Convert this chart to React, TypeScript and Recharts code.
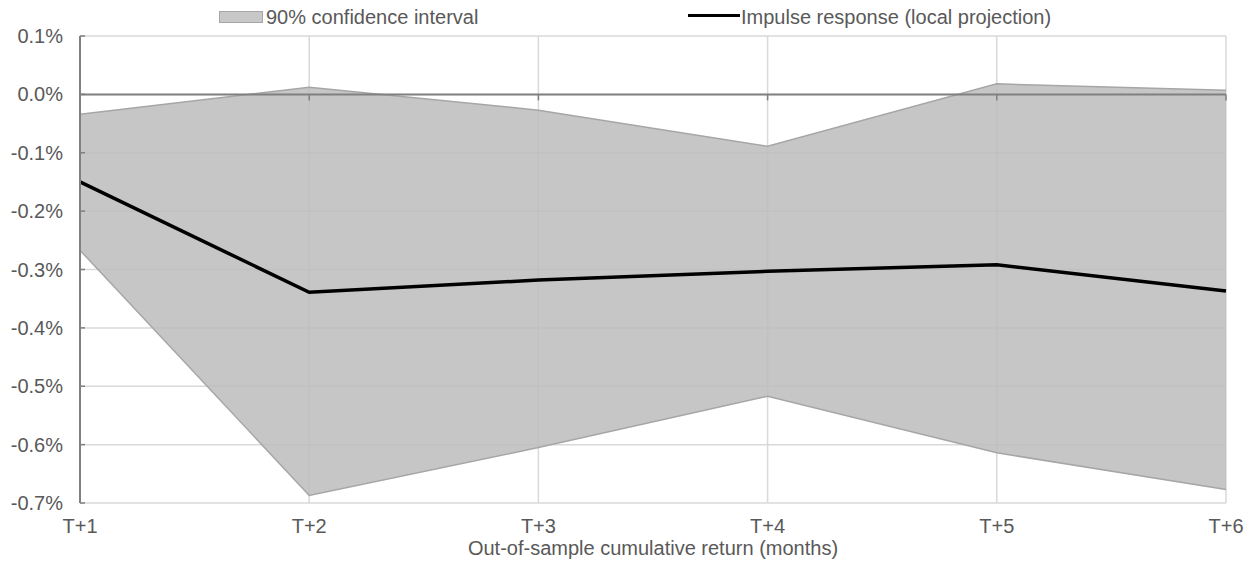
import React from "react";
import {
  ComposedChart,
  Area,
  Line,
  XAxis,
  YAxis,
  CartesianGrid,
  ReferenceLine,
  Legend,
} from "recharts";

// values in percent
const horizons = ["T+1", "T+2", "T+3", "T+4", "T+5", "T+6"];
const impulse = [-0.15, -0.339, -0.318, -0.303, -0.292, -0.337];
const ciUpper = [-0.034, 0.012, -0.027, -0.089, 0.018, 0.007];
const ciLower = [-0.267, -0.687, -0.605, -0.517, -0.614, -0.677];
const yTicks = [0.1, 0, -0.1, -0.2, -0.3, -0.4, -0.5, -0.6, -0.7];

const data = horizons.map((t, i) => ({
  t,
  irf: impulse[i],
  band: [ciLower[i], ciUpper[i]],
}));

const FONT = '"Liberation Sans", Arial, sans-serif';
const TEXT = "#595959";
const AXIS = "#808080";
const FS = 20;

const fmt = (v: number) => `${v.toFixed(1)}%`;

function YTick(props: any) {
  const { x, y, payload } = props;
  return (
    <g>
      <line x1={x + 17} x2={x + 22} y1={y} y2={y} stroke={AXIS} strokeWidth={1.5} />
      <text x={x} y={y} dy={7} textAnchor="end" fill={TEXT} fontSize={FS} fontFamily={FONT}>
        {fmt(payload.value)}
      </text>
    </g>
  );
}

function ZeroLine(props: any) {
  const { x1, y1, x2, y2 } = props;
  const n = horizons.length;
  const step = (x2 - x1) / (n - 1);
  return (
    <g>
      <line x1={x1} y1={y1} x2={x2} y2={y2} stroke={AXIS} strokeWidth={2} />
      {horizons.map((h, i) => (
        <line
          key={h}
          x1={x1 + i * step}
          x2={x1 + i * step}
          y1={y1}
          y2={y1 + 6}
          stroke={AXIS}
          strokeWidth={1.5}
        />
      ))}
    </g>
  );
}

function LegendBox() {
  return (
    <div style={{ position: "relative", height: 36, fontFamily: FONT, fontSize: FS, color: TEXT }}>
      <div style={{ position: "absolute", left: 219, top: 11, width: 42, height: 10, background: "#c8c8c8", border: "1px solid #a6a6a6" }} />
      <div style={{ position: "absolute", left: 266, top: 5, lineHeight: "24px", whiteSpace: "nowrap" }}>
        90% confidence interval
      </div>
      <div style={{ position: "absolute", left: 688, top: 14, width: 52, height: 3, background: "#000" }} />
      <div style={{ position: "absolute", left: 741, top: 5, lineHeight: "24px", whiteSpace: "nowrap" }}>
        Impulse response (local projection)
      </div>
    </div>
  );
}

export default function App() {
  return (
    <div style={{ position: "absolute", left: 0, top: 0, background: "#fff" }}>
      <ComposedChart
        width={1253}
        height={567}
        data={data}
        margin={{ top: 0, right: 27, bottom: 0, left: 0 }}
      >
        <Legend verticalAlign="top" align="left" height={36} content={() => <LegendBox />} />
        <CartesianGrid stroke="#d9d9d9" strokeWidth={1.5} />
        <Area
          type="linear"
          dataKey="band"
          fill="#bcbcbc"
          fillOpacity={0.85}
          stroke="#a6a6a6"
          strokeWidth={1.5}
          isAnimationActive={false}
          dot={false}
          activeDot={false}
        />
        <ReferenceLine y={0} shape={<ZeroLine />} />
        <XAxis
          dataKey="t"
          scale="point"
          padding={{ left: 0, right: 0 }}
          height={64}
          axisLine={false}
          tickLine={false}
          tickSize={0}
          tickMargin={16}
          tick={{ fill: TEXT, fontSize: FS, fontFamily: FONT }}
          label={{
            value: "Out-of-sample cumulative return (months)",
            position: "insideBottom",
            offset: 12,
            fill: TEXT,
            fontSize: FS,
            fontFamily: FONT,
          }}
        />
        <YAxis
          domain={[-0.7, 0.1]}
          ticks={yTicks}
          width={80}
          axisLine={{ stroke: AXIS, strokeWidth: 2 }}
          tickLine={false}
          tickSize={0}
          tickMargin={17}
          tick={<YTick />}
          interval={0}
        />
        <Line
          type="linear"
          dataKey="irf"
          stroke="#000"
          strokeWidth={3.5}
          dot={false}
          activeDot={false}
          isAnimationActive={false}
        />
      </ComposedChart>
    </div>
  );
}
